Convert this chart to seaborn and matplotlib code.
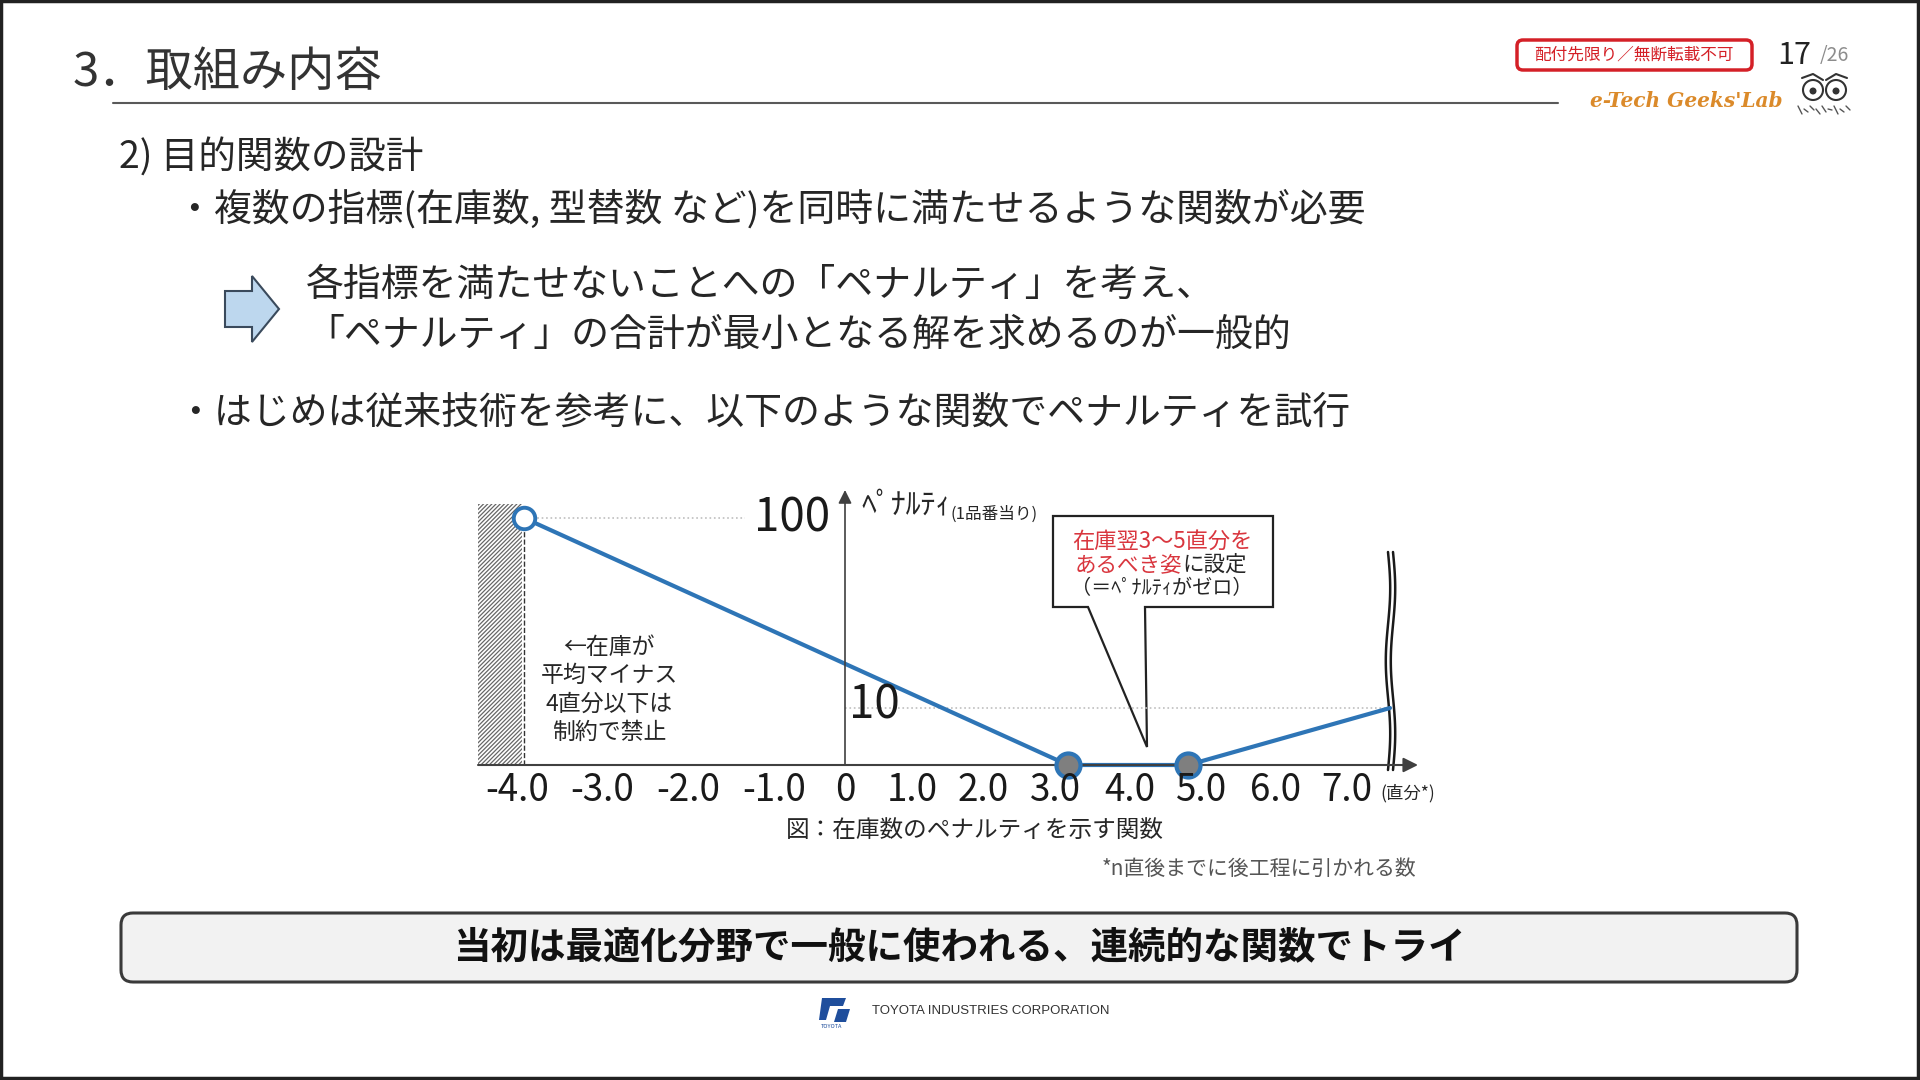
import numpy as np
import matplotlib
matplotlib.use("Agg")
import matplotlib.pyplot as plt
from matplotlib.patches import Rectangle, FancyBboxPatch, Polygon, Circle
import seaborn as sns

# ---------------- data ----------------
stock_x = [-4.0, 3.0, 5.0, 7.6]          # 在庫 (直分)
penalty = [100, 0, 0, 10]                # ペナルティ
open_x, open_y = [-4.0], [100]
zero_x, zero_y = [3.0, 5.0], [0, 0]
xtick_vals = [-4, -3, -2, -1, 0, 1, 2, 3, 4, 5, 6, 7]
xtick_labels = ["-4.0", "-3.0", "-2.0", "-1.0", "0", "1.0", "2.0", "3.0",
                "4.0", "5.0", "6.0", "7.0"]
ytick_labels = ["100", "10"]

title = "3．取組み内容"
sub = "2) 目的関数の設計"
bullet1 = "・複数の指標(在庫数, 型替数 など)を同時に満たせるような関数が必要"
arrow_l1 = "各指標を満たせないことへの「ペナルティ」を考え、"
arrow_l2 = "「ペナルティ」の合計が最小となる解を求めるのが一般的"
bullet2 = "・はじめは従来技術を参考に、以下のような関数でペナルティを試行"
left_note = ["←在庫が", "平均マイナス", "4直分以下は", "制約で禁止"]
caption = "図：在庫数のペナルティを示す関数"
footnote = "*n直後までに後工程に引かれる数"
conclusion = "当初は最適化分野で一般に使われる、連続的な関数でトライ"

# ---------------- layout (pixel mapping of the schematic axes) ----------------
# marks
X_KNOTS = [-104.0, -4.0, 0.0, 3.0, 5.0, 7.6, 107.6]
X_PIX = [524 - 100 * 80.25, 524, 845, 1068, 1188, 1390, 1390 + 100 * 77.7]
# tick labels (the schematic places them slightly differently)
L_KNOTS = [-104.0, -4, -3, -2, -1, 0, 1, 2, 3, 4, 5, 6, 7, 107.0]
L_PIX = [517 - 100 * 85.0, 517, 602, 688, 774, 845, 912, 983, 1055, 1130, 1202, 1276, 1347,
         1347 + 100 * 72.0]
Y_KNOTS = [-100.0, 0.0, 10.0, 100.0, 1100.0]
Y_PIX = [-570.0, 0.0, 57.0, 247.0, 247.0 + 1000 * 2.11]   # height above x-axis
AX_Y0 = 765  # pixel row of x-axis


def xf(v):
    return np.interp(np.asarray(v, dtype=float), X_KNOTS, X_PIX)


def xi(p):
    return np.interp(np.asarray(p, dtype=float), X_PIX, X_KNOTS)


def lf(v):
    return np.interp(np.asarray(v, dtype=float), L_KNOTS, L_PIX)


def li(p):
    return np.interp(np.asarray(p, dtype=float), L_PIX, L_KNOTS)


def yf(v):
    return np.interp(np.asarray(v, dtype=float), Y_KNOTS, Y_PIX)


def yi(p):
    return np.interp(np.asarray(p, dtype=float), Y_PIX, Y_KNOTS)


sns.set_theme(style="white")
plt.rcParams["font.family"] = ["Noto Sans CJK JP", "DejaVu Sans"]
plt.rcParams["hatch.linewidth"] = 0.9
plt.rcParams["hatch.color"] = "#666666"

BLUE = "#2E75B6"
TXT = "#262626"
RED = "#D9363E"

fig = plt.figure(figsize=(19.2, 10.8), dpi=100)
fig.patch.set_facecolor("white")

# overlay in pixel coordinates
ov = fig.add_axes([0, 0, 1, 1], zorder=0)
ov.set_xlim(0, 1920)
ov.set_ylim(1080, 0)
ov.axis("off")


def T(x, y, s, size, color=TXT, ha="left", va="center", **kw):
    ov.text(x, y, s, fontsize=size, color=color, ha=ha, va=va, **kw)


# frame
ov.add_patch(Rectangle((1, 1), 1917, 1077, fill=False, ec="#222222", lw=2.5))

# header
T(73, 73, title, 34, color="#333333")
ov.plot([113, 1558], [103, 103], color="#595959", lw=1.5)
ov.add_patch(FancyBboxPatch((1517, 40), 235, 30, boxstyle="round,pad=0,rounding_size=6",
                            fc="white", ec="#D42027", lw=2.5))
T(1634, 55, "配付先限り／無断転載不可", 12, color="#D42027", ha="center")
T(1777, 56, "17", 22, color="#222222")
T(1820, 56, "/26", 14, color="#8C8C8C")
T(1590, 101, "e-Tech Geeks'Lab", 14.5, color="#DB8A2A", family="DejaVu Serif",
  style="italic", weight="bold")
# owl
for cx in (1813, 1836):
    ov.add_patch(Circle((cx, 90), 10, fc="white", ec="#333333", lw=1.5))
    ov.add_patch(Circle((cx, 91), 3.5, fc="#333333", ec="none"))
ov.plot([1802, 1813, 1823], [78, 74, 80], color="#333333", lw=1.5)
ov.plot([1826, 1836, 1847], [80, 74, 78], color="#333333", lw=1.5)
for k in range(9):
    ov.plot([1798 + k * 6, 1802 + k * 6], [106 + (k % 2) * 3, 114 - (k % 3) * 2],
            color="#555555", lw=1.0)

# body text
T(119, 158, sub, 27)
T(176, 210, bullet1, 27.3)
ov.add_patch(Polygon([(225, 291), (252, 291), (252, 276), (279, 309), (252, 342),
                      (252, 327), (225, 327)], closed=True, fc="#BDD7EE", ec="#3A4A5C", lw=1.5))
T(306, 285, arrow_l1, 27.3)
T(306, 335, arrow_l2, 27.3)
T(176, 413, bullet2, 27.3)

# hatch (constraint zone)
ov.add_patch(Rectangle((478, 504), 44, 261, fc="white", ec="#666666", lw=0,
                       hatch="////////"))
# left note
for i, line in enumerate(left_note):
    T(609, 647 + i * 28.5, line, 16.5, ha="center")

# callout
ov.add_patch(Polygon([(1053, 516), (1273, 516), (1273, 607), (1145, 607), (1147, 747),
                      (1088, 607), (1053, 607)], closed=True, fc="white", ec="#222222", lw=1.6))
T(1162, 541, "在庫翌3～5直分を", 16, color=RED, ha="center")
T(1182, 565, "あるべき姿", 15.5, color=RED, ha="right")
T(1182, 565, "に設定", 15.5, ha="left")
T(1162, 589, "（＝ﾍﾟﾅﾙﾃｨがゼロ）", 14.5, ha="center")

# axis title
T(861, 505, "ﾍﾟﾅﾙﾃｨ", 21.5)
T(951, 514, "(1品番当り)", 12)
T(1380, 793, "(直分*)", 12.5)

# break mark
yy = np.linspace(552, 770, 80)
for off in (0, 5):
    ov.plot(1388 + off + 2.2 * np.sin((yy - 552) / 218 * 3 * np.pi), yy,
            color="#1A1A1A", lw=1.8)

# captions
T(975, 830, caption, 17, ha="center")
T(1102, 869, footnote, 15, color="#555555")

# conclusion box
ov.add_patch(FancyBboxPatch((121, 913), 1676, 69, boxstyle="round,pad=0,rounding_size=12",
                            fc="#F2F2F2", ec="#3A3A3A", lw=2.2))
T(959, 947, conclusion, 27, color="#111111", ha="center", weight="bold")

# footer
ov.add_patch(Polygon([(822, 998), (846, 998), (843, 1006), (830, 1006), (826, 1020), (819, 1020)],
                     closed=True, fc="#1F4E9C", ec="none"))
ov.add_patch(Polygon([(838, 1009), (850, 1009), (846, 1022), (834, 1022)],
                     closed=True, fc="#1F4E9C", ec="none"))
T(832, 1027, "TOYOTA", 4, color="#1F4E9C", ha="center")
T(872, 1011, "TOYOTA INDUSTRIES CORPORATION", 9.5, color="#333333", family="Liberation Sans")

# ---------------- chart axes ----------------
left_px, right_px, top_px = 470, 1430, 380
ax = fig.add_axes([left_px / 1920, (1080 - AX_Y0) / 1080,
                   (right_px - left_px) / 1920, (AX_Y0 - top_px) / 1080], zorder=2)
ax.set_facecolor("none")
ax.set_xscale("function", functions=(xf, xi))
ax.set_yscale("function", functions=(yf, yi))
ax.set_xlim(float(xi(left_px)), float(xi(right_px)))
ax.set_ylim(0, float(yi(AX_Y0 - top_px)))
for sp in ax.spines.values():
    sp.set_visible(False)
ax.set_yticks([])
ax.set_xticks([])
ax.minorticks_off()
ax.grid(False)

# tick-label axis (same pixels, schematic label placement)
axl = ax.twiny()
axl.set_xscale("function", functions=(lf, li))
axl.set_xlim(float(li(left_px)), float(li(right_px)))
for sp in axl.spines.values():
    sp.set_visible(False)
axl.xaxis.set_ticks_position("bottom")
axl.xaxis.set_label_position("bottom")
axl.set_xticks(xtick_vals)
axl.set_xticklabels(xtick_labels)
axl.minorticks_off()
axl.tick_params(axis="x", length=0, pad=4, labelsize=26.5, labelcolor="#1A1A1A",
                top=False, labeltop=False, bottom=True, labelbottom=True)
axl.grid(False)

# reference lines
ax.plot([-4, float(xi(745))], [100, 100], ls=":", color="#BFBFBF", lw=1.2)
ax.plot([0, stock_x[-1]], [10, 10], ls=":", color="#BFBFBF", lw=1.2)
ax.plot([-4, -4], [0, 100], ls="--", color="#333333", lw=1.0)

# axes arrows
ax.annotate("", xy=(float(xi(1418)), 0), xytext=(float(xi(478)), 0),
            arrowprops=dict(arrowstyle="-|>", color="#404040", lw=1.5, mutation_scale=22,
                            shrinkA=0, shrinkB=0), annotation_clip=False)
ax.annotate("", xy=(0, float(yi(AX_Y0 - 490))), xytext=(0, 0),
            arrowprops=dict(arrowstyle="-|>", color="#404040", lw=1.2, mutation_scale=20,
                            shrinkA=0, shrinkB=0), annotation_clip=False)

# y labels
ax.text(float(xi(830)), 100, ytick_labels[0], fontsize=33, ha="right", va="center",
        color="#1A1A1A", clip_on=False)
ax.annotate(ytick_labels[1], xy=(float(xi(849)), 10), xytext=(0, 2), textcoords="offset points",
            fontsize=33, ha="left", va="center", color="#1A1A1A", annotation_clip=False)

# penalty function
sns.lineplot(x=stock_x, y=penalty, ax=ax, color=BLUE, lw=3.0, sort=False, estimator=None)
sns.scatterplot(x=open_x, y=open_y, ax=ax, s=240, color="white", edgecolor=BLUE,
                linewidth=2.8, zorder=5)
sns.scatterplot(x=zero_x, y=zero_y, ax=ax, s=300, color="#7F7F7F", edgecolor=BLUE,
                linewidth=3.0, zorder=5)
for art in ax.lines + ax.collections:
    art.set_clip_on(False)
ax.set_xlabel("")
ax.set_ylabel("")

fig.savefig("out.png", dpi=100, facecolor="white")
